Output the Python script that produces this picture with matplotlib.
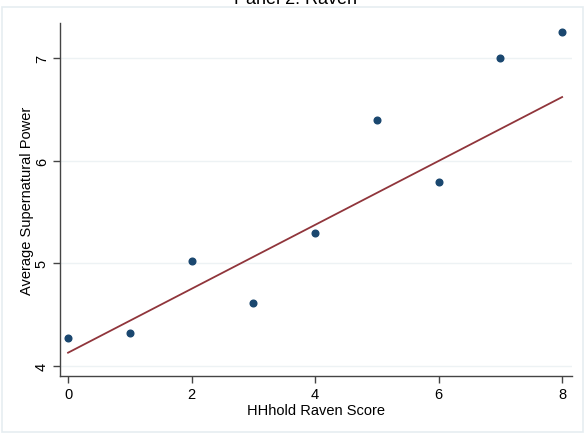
import matplotlib
matplotlib.use("Agg")
import matplotlib.pyplot as plt
from matplotlib.patches import Rectangle

plt.rcParams['font.family'] = ['Liberation Sans', 'DejaVu Sans']

# HHhold Raven score vs. average supernatural power
raven = [0, 1, 2, 3, 4, 5, 6, 7, 8]
power = [4.27, 4.32, 5.02, 4.61, 5.30, 6.40, 5.79, 7.00, 7.25]

# fitted line end points
fit_x = [0, 8]
fit_y = [4.13, 6.62]

xticks = [0, 2, 4, 6, 8]
yticks = [4, 5, 6, 7]

fig = plt.figure(figsize=(5.85, 4.35), dpi=100)
ax = fig.add_axes([0.1026, 0.1333, 0.8752, 0.8115])

# faint frame round the graph region
fig.patches.append(Rectangle((2 / 585, 2 / 435), 581 / 585, 425 / 435,
                             transform=fig.transFigure, fill=False,
                             edgecolor='#e6edf1', linewidth=1.2))

# horizontal grid lines
for y in yticks:
    ax.axhline(y, color='#edf2f4', linewidth=1.0, zorder=0)

ax.plot(fit_x, fit_y, color='#90353b', linewidth=1.3, zorder=2)
ax.plot(raven, power, 'o', color='#1a476f', markersize=4.8, zorder=3)

ax.set_xlim(-0.13, 8.16)
ax.set_ylim(3.903, 7.341)
ax.set_xticks(xticks)
ax.set_yticks(yticks)
ax.set_yticklabels([str(t) for t in yticks], rotation=90, va='center')

for side in ['top', 'right']:
    ax.spines[side].set_visible(False)
for side in ['left', 'bottom']:
    ax.spines[side].set_color('#444444')
    ax.spines[side].set_linewidth(1.0)
ax.tick_params(axis='both', colors='#444444', labelcolor='black',
               length=5, width=1.0, labelsize=10.5, pad=3)

ax.set_xlabel('HHhold Raven Score', fontsize=10.5, labelpad=1)
ax.set_ylabel('Average Supernatural Power', fontsize=10.5, labelpad=1)

# title is mostly cut off at the top edge
fig.text(296 / 585, 1 - 4 / 435, 'Panel 2: Raven', ha='center',
         va='baseline', fontsize=13)

fig.savefig('out.png', dpi=100)
